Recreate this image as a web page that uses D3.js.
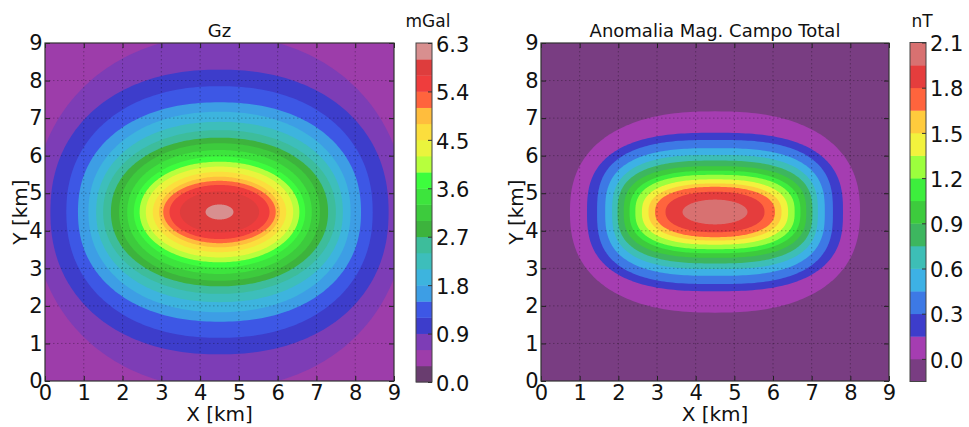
<!DOCTYPE html>
<html><head><meta charset="utf-8">
<script src="https://cdn.jsdelivr.net/npm/d3@7"></script>
<style>
body{margin:0;background:#fff}
svg{display:block}
text{font-family:"DejaVu Sans",sans-serif;fill:#111}
</style>
</head><body>
<svg id="chart" width="969" height="427"></svg>
<script>
// ---------- data ----------
const axisTicks = [0,1,2,3,4,5,6,7,8,9];

// Gz panel
const gzTitle = "Gz";
const gzUnit = "mGal";
const gzLevels = [0.0,0.3,0.6,0.9,1.2,1.5,1.8,2.1,2.4,2.7,3.0,3.3,3.6,3.9,4.2,4.5,4.8,5.1,5.4,5.7,6.0,6.3];
const gzTicks = [0.0,0.9,1.8,2.7,3.6,4.5,5.4,6.3];
const gzCenter = [4.5, 4.5];
const gzContour = [0.6,0.9,1.2,1.5,1.8,2.1,2.4,2.7,3.0,3.3,3.6,3.9,4.2,4.5,4.8,5.1,5.4,5.7,6.0];
const gzRx      = [4.80,4.36,3.95,3.65,3.38,3.18,3.00,2.80,2.59,2.38,2.21,2.06,1.90,1.72,1.56,1.45,1.29,1.02,0.36];
const gzRy      = [4.70,3.79,3.35,2.92,2.67,2.40,2.18,1.98,1.83,1.65,1.48,1.34,1.21,1.07,0.94,0.83,0.72,0.55,0.20];
const gzRound   = [2.1,2.2,2.2,2.2,2.15,2.15,2.1,2.1,2.1,2.1,2.05,2.05,2.05,2.0,2.0,2.0,2.0,2.0,2.0];

// Magnetic panel
const magTitle = "Anomalia Mag. Campo Total";
const magUnit = "nT";
const magLevels = [-0.15,0.0,0.15,0.3,0.45,0.6,0.75,0.9,1.05,1.2,1.35,1.5,1.65,1.8,1.95,2.1];
const magTicks = [0.0,0.3,0.6,0.9,1.2,1.5,1.8,2.1];
const magCenter = [4.5, 4.5];
const magContour = [0.0,0.15,0.3,0.45,0.6,0.75,0.9,1.05,1.2,1.35,1.5,1.65,1.8,1.95];
const magRx      = [3.75,3.31,3.05,2.84,2.66,2.52,2.36,2.21,2.06,1.89,1.72,1.55,1.28,0.84];
const magRy      = [2.68,2.11,1.92,1.70,1.52,1.37,1.22,1.10,0.99,0.87,0.76,0.67,0.54,0.33];
const magRound   = [2.4,2.7,2.8,2.8,2.8,2.7,2.7,2.6,2.6,2.5,2.4,2.3,2.2,2.0];

// colormap (nipy_spectral) stops
const cmapStops  = [0,0.05,0.1,0.15,0.2,0.25,0.3,0.35,0.4,0.45,0.5,0.55,0.6,0.65,0.7,0.75,0.8,0.85,0.9,0.95,1];
const cmapColors = ["#000000","#770088","#880099","#0000aa","#0000dd","#0077dd","#0099dd","#00aaaa","#00aa88","#009900",
                    "#00bb00","#00dd00","#00ff00","#bbff00","#eeee00","#ffcc00","#ff9900","#ff0000","#dd0000","#cc0000","#cccccc"];
const fillAlpha = 0.76;

// ---------- drawing ----------
const svg = d3.select("#chart");
const cmap = d3.scaleLinear().domain(cmapStops).range(cmapColors).interpolate(d3.interpolateRgb);
function layerColor(i, nLayers){
  const c = cmap((i + 0.5) / nLayers);
  return d3.interpolateRgb("#ffffff", c)(fillAlpha);
}

function shapePath(cx, cy, rx, ry, n, xs, ys){
  const N = 260;
  const pts = d3.range(N).map(i => {
    const t = i / N * 2 * Math.PI, c = Math.cos(t), s = Math.sin(t);
    return [xs(cx + rx * Math.sign(c) * Math.pow(Math.abs(c), 2 / n)),
            ys(cy + ry * Math.sign(s) * Math.pow(Math.abs(s), 2 / n))];
  });
  return d3.line().curve(d3.curveLinearClosed)(pts);
}

const panels = [
  {id:"gz", title:gzTitle, unit:gzUnit, levels:gzLevels, ticks:gzTicks, center:gzCenter,
   contour:gzContour, rx:gzRx, ry:gzRy, round:gzRound,
   ax:{x:45, y:43, w:349, h:338}, cb:{x:416, y:43, w:16, h:339}, titleY:37},
  {id:"mag", title:magTitle, unit:magUnit, levels:magLevels, ticks:magTicks, center:magCenter,
   contour:magContour, rx:magRx, ry:magRy, round:magRound,
   ax:{x:541, y:43, w:348, h:338}, cb:{x:910, y:42.5, w:16, h:339}, titleY:36.5}
];

panels.forEach(p => {
  const a = p.ax;
  const xs = d3.scaleLinear().domain([0,9]).range([a.x, a.x + a.w]);
  const ys = d3.scaleLinear().domain([0,9]).range([a.y + a.h, a.y]);
  const nLayers = p.levels.length - 1;

  svg.append("clipPath").attr("id", "clip-" + p.id)
    .append("rect").attr("x", a.x).attr("y", a.y).attr("width", a.w).attr("height", a.h);
  const g = svg.append("g").attr("clip-path", `url(#clip-${p.id})`);

  const bgLayer = p.levels.indexOf(p.contour[0]) - 1;
  g.append("rect").attr("x", a.x).attr("y", a.y).attr("width", a.w).attr("height", a.h)
    .attr("fill", layerColor(bgLayer, nLayers));

  p.contour.forEach((lv, k) => {
    const li = p.levels.indexOf(lv);
    g.append("path")
      .attr("d", shapePath(p.center[0], p.center[1], p.rx[k], p.ry[k], p.round[k], xs, ys))
      .attr("fill", layerColor(li, nLayers));
  });

  // grid
  const inner = axisTicks.filter(t => t > 0 && t < 9);
  g.selectAll(".gx").data(inner).enter().append("line")
    .attr("x1", d => xs(d)).attr("x2", d => xs(d)).attr("y1", a.y).attr("y2", a.y + a.h)
    .attr("stroke", "#000").attr("stroke-opacity", 0.28).attr("stroke-width", 1).attr("stroke-dasharray", "1.5,2.5");
  g.selectAll(".gy").data(inner).enter().append("line")
    .attr("y1", d => ys(d)).attr("y2", d => ys(d)).attr("x1", a.x).attr("x2", a.x + a.w)
    .attr("stroke", "#000").attr("stroke-opacity", 0.28).attr("stroke-width", 1).attr("stroke-dasharray", "1.5,2.5");

  // axes
  const fmt = d3.format("d");
  const axB = svg.append("g").attr("transform", `translate(0,${a.y + a.h})`)
    .call(d3.axisBottom(xs).tickValues(axisTicks).tickFormat(fmt).tickSizeInner(-5).tickSizeOuter(0).tickPadding(4));
  const axL = svg.append("g").attr("transform", `translate(${a.x},0)`)
    .call(d3.axisLeft(ys).tickValues(axisTicks).tickFormat(fmt).tickSizeInner(-5).tickSizeOuter(0).tickPadding(2.5));
  const axT = svg.append("g").attr("transform", `translate(0,${a.y})`)
    .call(d3.axisTop(xs).tickValues(axisTicks).tickFormat("").tickSizeInner(-5).tickSizeOuter(0));
  const axR = svg.append("g").attr("transform", `translate(${a.x + a.w},0)`)
    .call(d3.axisRight(ys).tickValues(axisTicks).tickFormat("").tickSizeInner(-5).tickSizeOuter(0));
  [axB, axL, axT, axR].forEach(ax => {
    ax.select(".domain").remove();
    ax.selectAll("line").attr("stroke", "#222");
    ax.selectAll("text").attr("font-size", 21).attr("font-family", "DejaVu Sans").attr("fill", "#111");
  });
  svg.append("rect").attr("x", a.x).attr("y", a.y).attr("width", a.w).attr("height", a.h)
    .attr("fill", "none").attr("stroke", "#333").attr("stroke-width", 1.2);

  // labels
  svg.append("text").attr("x", a.x + a.w / 2).attr("y", p.titleY).attr("text-anchor", "middle")
    .attr("font-size", 18).text(p.title);
  svg.append("text").attr("x", a.x + a.w / 2).attr("y", 421).attr("text-anchor", "middle")
    .attr("font-size", 20).text("X [km]");
  svg.append("text").attr("transform", `translate(${a.x - 18.5},${a.y + a.h / 2}) rotate(-90)`)
    .attr("text-anchor", "middle").attr("font-size", 20).text("Y [km]");

  // colorbar
  const c = p.cb;
  const cy = d3.scaleLinear().domain([p.levels[0], p.levels[nLayers]]).range([c.y + c.h, c.y]);
  const cg = svg.append("g");
  d3.range(nLayers).forEach(i => {
    cg.append("rect").attr("x", c.x).attr("width", c.w)
      .attr("y", cy(p.levels[i + 1])).attr("height", cy(p.levels[i]) - cy(p.levels[i + 1]) + 0.4)
      .attr("fill", layerColor(i, nLayers));
  });
  cg.append("rect").attr("x", c.x).attr("y", c.y).attr("width", c.w).attr("height", c.h)
    .attr("fill", "none").attr("stroke", "#444").attr("stroke-width", 1);
  const axC = svg.append("g").attr("transform", `translate(${c.x + c.w},1.5)`)
    .call(d3.axisRight(cy).tickValues(p.ticks).tickFormat(d3.format(".1f")).tickSizeInner(-4).tickSizeOuter(0).tickPadding(4));
  axC.select(".domain").remove();
  axC.selectAll("line").attr("stroke", "#333").attr("transform", "translate(0,-1.5)");
  axC.selectAll("text").attr("font-size", 21).attr("font-family", "DejaVu Sans").attr("fill", "#111");
  svg.append("text").attr("x", c.x + c.w / 2 + 4).attr("y", 26.5).attr("text-anchor", "middle")
    .attr("font-size", 17).text(p.unit);
});
</script>
</body></html>
